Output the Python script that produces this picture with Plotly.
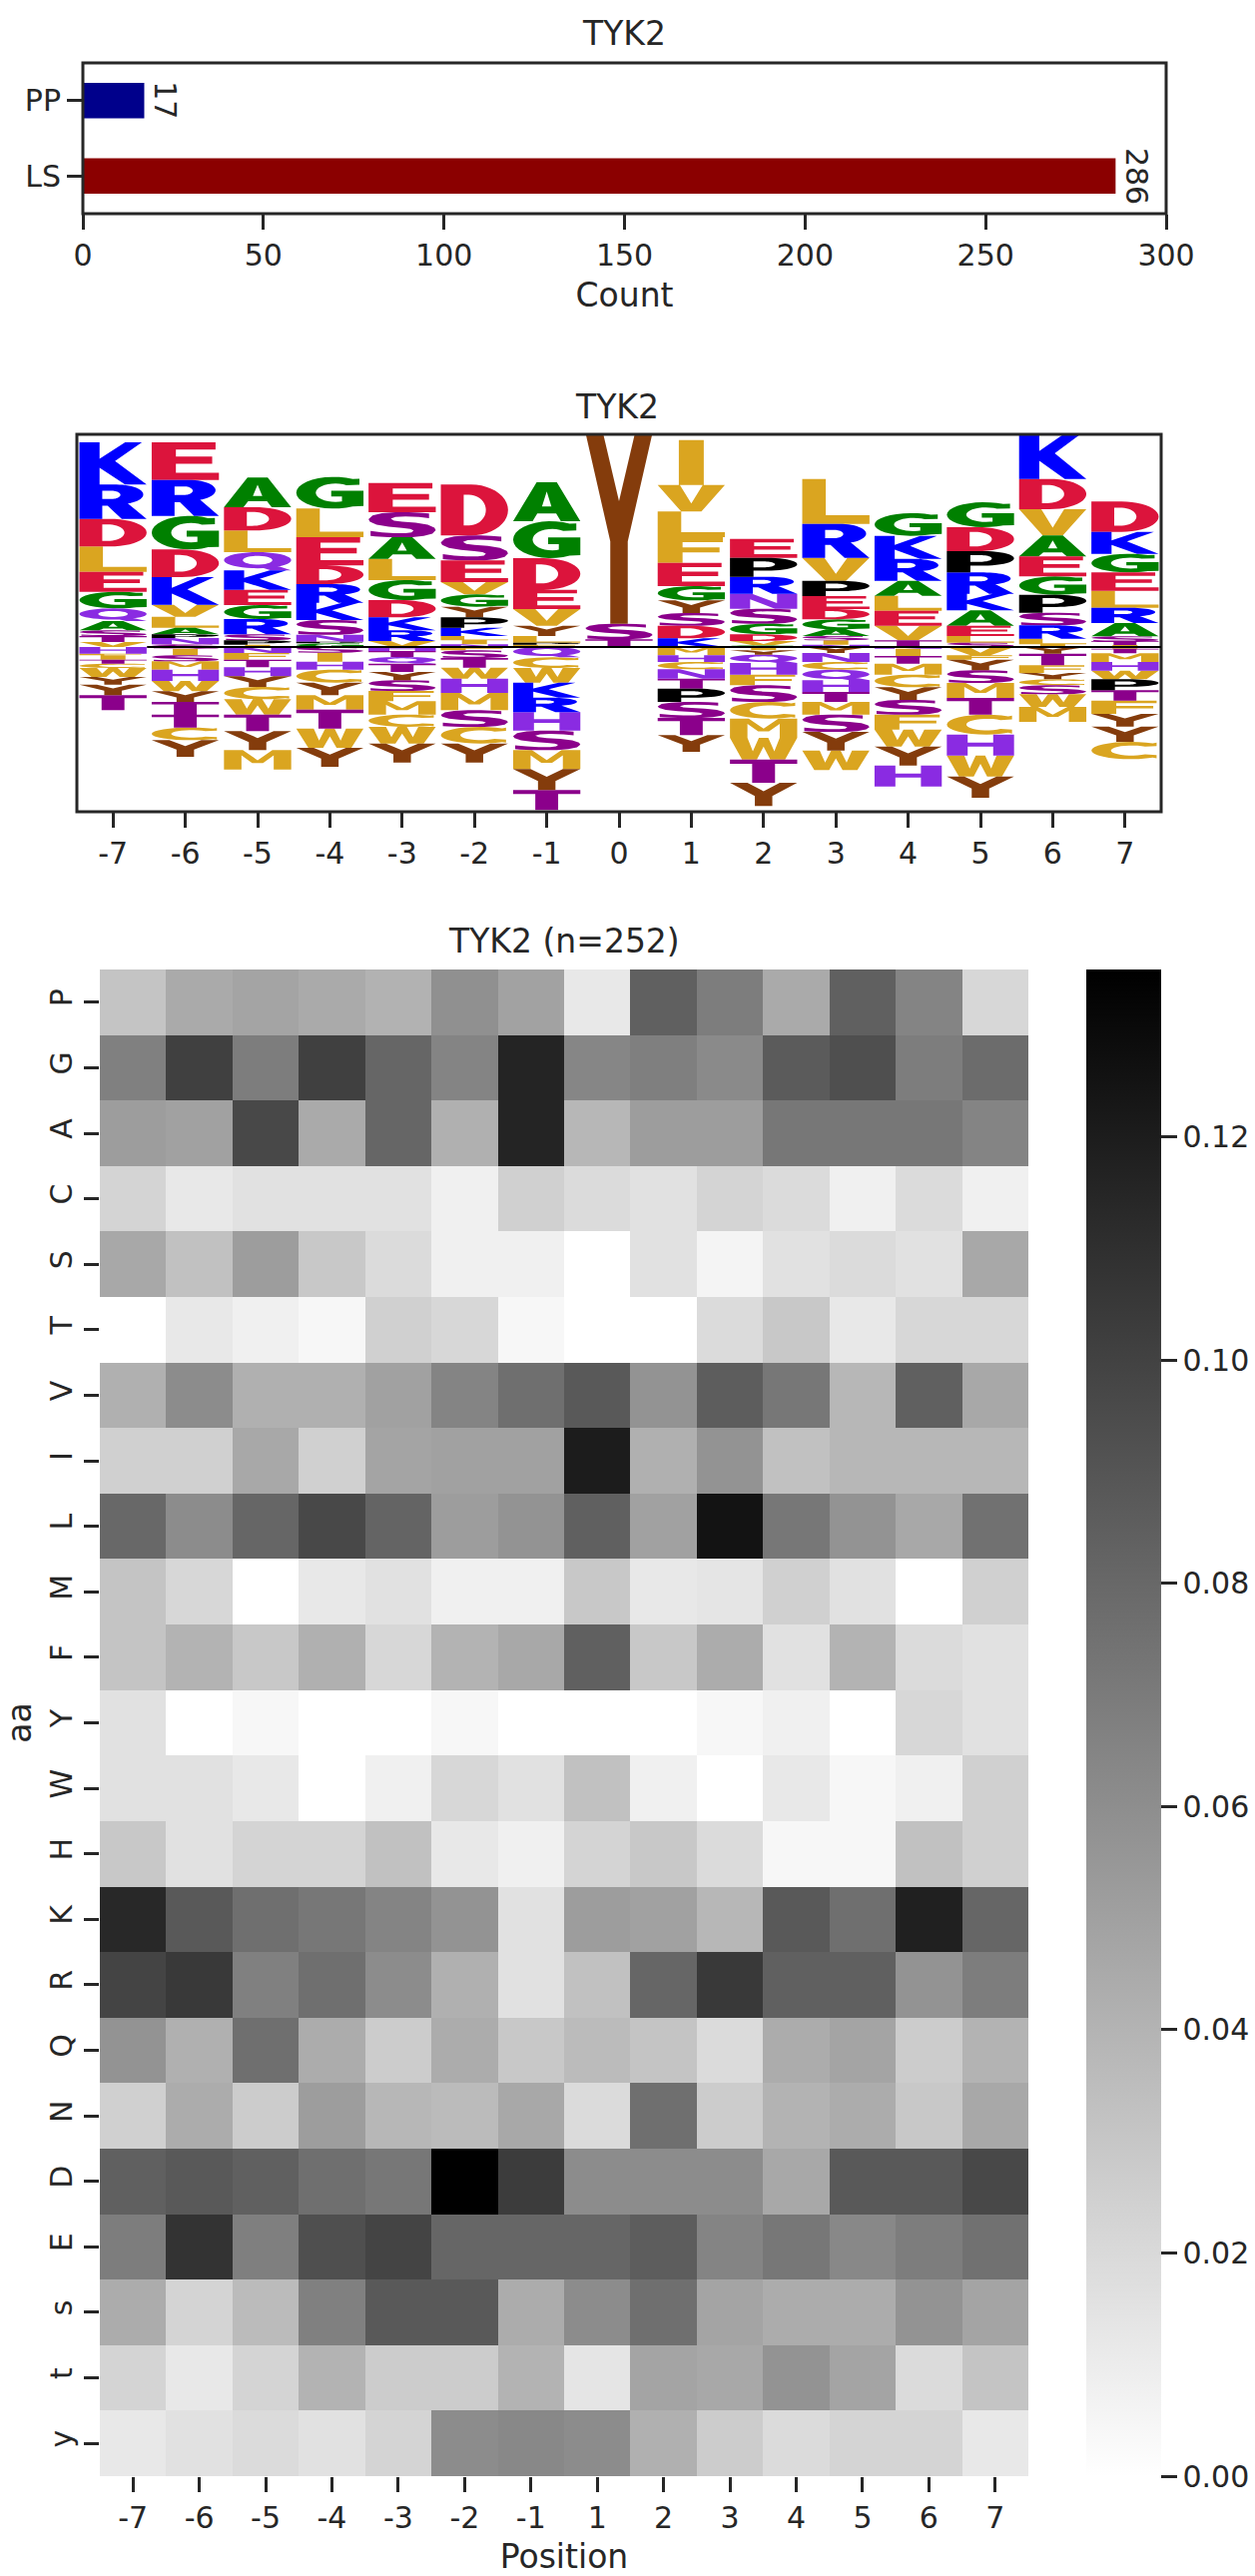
import math
import plotly.graph_objects as go

# ---------- data ----------
BAR_CATEGORIES = ["PP", "LS"]
BAR_COUNTS = [17, 286]
BAR_COLORS = ["#00008B", "#8B0000"]

LOGO_POSITIONS = list(range(-7, 8))
# letters listed from the top of the picture down; heights in logo units
UP_LETTERS = ["KRDLEGQASTV", "ERGDKVLAPNS", "ADLQKEGRSPI", "GLEDRKSNPG", "ESALGDKRV", "DSEVGYPKLIN",
              "AGDEVYLPF", "YST", "IVLFEGYSDK", "EPRNSGDVG", "LRVPEDGASIN", "GKRALEVT", "GDPRKAELS",
              "KDVAEGPSRLI", "DKGELRASTI"]
UP_HEIGHTS = [
    [127, 103, 83, 76, 60, 50, 38, 28, 17, 18, 15],
    [113, 108, 101, 83, 83, 36, 33, 20, 11, 19, 8],
    [89, 70, 65, 55, 58, 46, 42, 46, 18, 13, 7],
    [95, 86, 85, 56, 56, 52, 44, 21, 5, 11],
    [88, 75, 65, 64, 60, 52, 39, 32, 18],
    [153, 75, 65, 37, 37, 32, 31, 25, 13, 12, 8],
    [117, 111, 95, 58, 50, 31, 20, 6, 7],
    [575, 47, 23],
    [135, 80, 77, 77, 70, 43, 38, 38, 38, 26],
    [57, 57, 51, 45, 45, 32, 20, 13, 5],
    [135, 102, 69, 46, 39, 31, 30, 20, 13, 13, 7],
    [68, 69, 66, 45, 45, 45, 44, 20],
    [75, 72, 64, 64, 50, 46, 31, 20, 13],
    [137, 91, 79, 63, 60, 55, 54, 38, 40, 17, 8],
    [91, 66, 56, 55, 51, 46, 40, 15, 11, 6],
]
# letters listed from the baseline downward
DOWN_LETTERS = ["HFITCWYYT", "SISMHWYTTCY", "NFTHYCWTYM", "SIHCYMTWY", "HTQTYSFMCWY", "FSTWHMSCY",
                "QCWKRHSMYT", "", "MHCNTPSTY", "IYQHFSCMWTY", "YNCQHTMSYW", "NITMCYSFWYH", "VFYSMTCHWY",
                "YTFYCSWM", "ITMHWPTFYYC"]
DOWN_HEIGHTS = [
    [20, 5, 13, 12, 13, 27, 23, 32, 45],
    [5, 20, 18, 25, 34, 31, 32, 38, 39, 38, 50],
    [18, 20, 23, 27, 32, 37, 46, 50, 57, 58],
    [17, 27, 24, 39, 38, 43, 57, 58, 57],
    [12, 18, 20, 25, 25, 32, 31, 40, 37, 50, 57],
    [10, 23, 29, 33, 43, 52, 50, 50, 57],
    [31, 32, 44, 45, 44, 55, 59, 57, 63, 60],
    [],
    [25, 20, 22, 28, 30, 40, 48, 52, 50],
    [10, 13, 25, 35, 32, 50, 50, 58, 65, 70, 70],
    [18, 27, 23, 32, 35, 30, 38, 52, 56, 59],
    [5, 22, 23, 33, 38, 38, 44, 45, 51, 57, 63],
    [25, 13, 32, 38, 45, 50, 60, 63, 63, 64],
    [20, 35, 23, 19, 18, 27, 38, 45],
    [5, 14, 26, 26, 26, 33, 31, 40, 38, 46, 52],
]

HEAT_COLUMNS = ["-7", "-6", "-5", "-4", "-3", "-2", "-1", "1", "2", "3", "4", "5", "6", "7"]
HEAT_ROWS = ["P", "G", "A", "C", "S", "T", "V", "I", "L", "M", "F", "Y", "W", "H", "K", "R", "Q", "N", "D", "E", "s", "t", "y"]
HEAT_MILLI = [
    [31, 45, 48, 45, 41, 59, 49, 12, 84, 69, 45, 84, 65, 21],
    [67, 101, 69, 101, 81, 65, 116, 64, 68, 62, 87, 93, 69, 78],
    [52, 50, 97, 45, 81, 42, 116, 38, 52, 52, 72, 72, 72, 65],
    [23, 12, 16, 16, 16, 8, 25, 19, 16, 23, 19, 8, 19, 8],
    [46, 33, 52, 29, 19, 8, 8, 0, 16, 6, 16, 19, 16, 46],
    [0, 12, 8, 4, 25, 21, 4, 0, 0, 19, 29, 12, 21, 21],
    [42, 61, 42, 42, 50, 65, 76, 88, 57, 86, 72, 38, 84, 46],
    [25, 25, 46, 25, 48, 50, 50, 120, 42, 57, 33, 38, 38, 38],
    [80, 61, 81, 97, 82, 52, 57, 84, 50, 125, 72, 57, 46, 75],
    [31, 21, 0, 12, 16, 8, 8, 29, 12, 14, 25, 16, 0, 25],
    [31, 40, 29, 42, 21, 40, 46, 84, 29, 44, 16, 40, 19, 16],
    [16, 0, 4, 0, 0, 4, 0, 0, 0, 4, 8, 0, 21, 16],
    [16, 16, 12, 0, 8, 21, 16, 33, 8, 0, 12, 4, 8, 25],
    [29, 16, 23, 23, 33, 12, 8, 23, 29, 19, 4, 4, 33, 25],
    [114, 88, 76, 72, 65, 57, 16, 52, 50, 38, 88, 76, 118, 81],
    [99, 105, 67, 76, 61, 42, 16, 33, 81, 105, 84, 84, 57, 69],
    [57, 42, 76, 44, 27, 44, 29, 36, 31, 19, 44, 48, 27, 40],
    [25, 44, 27, 52, 38, 36, 46, 19, 76, 27, 40, 44, 29, 46],
    [84, 88, 84, 76, 72, 135, 103, 61, 61, 61, 46, 88, 88, 97],
    [69, 108, 68, 93, 99, 81, 81, 81, 86, 65, 72, 63, 69, 75],
    [44, 23, 36, 67, 88, 88, 44, 61, 76, 48, 44, 44, 57, 48],
    [23, 12, 23, 40, 27, 27, 40, 14, 48, 46, 57, 48, 19, 31],
    [12, 16, 19, 16, 23, 61, 63, 61, 42, 27, 19, 23, 23, 12],
]

# ---------- styles ----------
FONT = "DejaVu Sans"
INK = "#262626"
FS_TICK = 30
FS_TITLE = 33
W, H = 1257, 2580
LETTER_COLORS = {
    "K": "#0000FF", "R": "#0000FF",
    "D": "#DC143C", "E": "#DC143C",
    "G": "#008000", "A": "#008000",
    "L": "#DAA520", "V": "#DAA520", "I": "#DAA520", "F": "#DAA520", "W": "#DAA520", "M": "#DAA520", "C": "#DAA520",
    "P": "#000000",
    "S": "#8B008B", "T": "#8B008B",
    "H": "#8A2BE2", "N": "#8A2BE2", "Q": "#8A2BE2",
    "Y": "#843C0C",
}


# ---------- glyph outlines in a unit box (style, not data) ----------
def arc(cx, cy, rx, ry, a0, a1, n=22):
    return [(cx + rx * math.cos(math.radians(a0 + (a1 - a0) * i / n)),
             cy + ry * math.sin(math.radians(a0 + (a1 - a0) * i / n))) for i in range(n + 1)]


GLYPHS = {
    "A": ([[(0, 0), (.29, 0), (.36, .2), (.64, .2), (.71, 0), (1, 0), (.65, 1), (.35, 1)]],
          [[(.43, .38), (.57, .38), (.5, .76)]]),
    "C": ([[(.97, .95), (.97, .76)] + arc(.6, .5, .31, .29, 50, 310) + [(.97, .24), (.97, .05)] + arc(.58, .5, .58, .5, 305, 55)], []),
    "D": ([[(0, 0), (0, 1), (.45, 1)] + arc(.45, .5, .55, .5, 90, -90) + [(.45, 0)]],
          [[(.34, .2), (.34, .8), (.42, .8)] + arc(.42, .5, .25, .3, 90, -90)]),
    "E": ([[(0, 0), (0, 1), (.95, 1), (.95, .81), (.36, .81), (.36, .62), (.9, .62), (.9, .43), (.36, .43), (.36, .19), (1, .19), (1, 0)]], []),
    "F": ([[(0, 0), (0, 1), (.97, 1), (.97, .81), (.37, .81), (.37, .6), (.92, .6), (.92, .41), (.37, .41), (.37, 0)]], []),
    "G": ([[(.94, .94), (.94, .75)] + arc(.58, .5, .29, .29, 55, 305) + [(.68, .2), (.68, .38), (.52, .38), (.52, .56), (1, .56), (1, .08)] + arc(.56, .5, .56, .5, 300, 60)], []),
    "H": ([[(0, 0), (0, 1), (.31, 1), (.31, .62), (.69, .62), (.69, 1), (1, 1), (1, 0), (.69, 0), (.69, .42), (.31, .42), (.31, 0)]], []),
    "I": ([[(0, 0), (0, 1), (1, 1), (1, 0)]], []),
    "K": ([[(0, 0), (0, 1), (.3, 1), (.3, .61), (.68, 1), (.93, 1), (.53, .56), (1, 0), (.68, 0), (.3, .4), (.3, 0)]], []),
    "L": ([[(0, 0), (0, 1), (.35, 1), (.35, .19), (1, .19), (1, 0)]], []),
    "M": ([[(0, 0), (0, 1), (.28, 1), (.5, .48), (.72, 1), (1, 1), (1, 0), (.74, 0), (.74, .73), (.58, .33), (.42, .33), (.26, .73), (.26, 0)]], []),
    "N": ([[(0, 0), (0, 1), (.33, 1), (.7, .37), (.7, 1), (1, 1), (1, 0), (.67, 0), (.3, .63), (.3, 0)]], []),
    "P": ([[(0, 0), (0, 1), (.55, 1)] + arc(.55, .66, .45, .34, 90, -90) + [(.35, .32), (.35, 0)]],
          [[(.35, .5), (.35, .81), (.5, .81)] + arc(.5, .655, .17, .155, 90, -90)]),
    "Q": ([arc(.5, .56, .5, .44, 0, 360, 40), [(.48, .25), (.75, .3), (1, 0), (.7, 0)]],
          [arc(.5, .56, .22, .24, 0, 360, 30)]),
    "R": ([[(0, 0), (0, 1), (.55, 1)] + arc(.55, .71, .4, .29, 90, -60) + [(.72, .45), (1, 0), (.63, 0), (.42, .38), (.34, .38), (.34, 0)]],
          [[(.34, .58), (.34, .82), (.48, .82)] + arc(.48, .7, .13, .12, 90, -90)]),
    "S": ([[(.9, .95), (.9, .76), (.75, .81), (.55, .83), (.4, .81), (.33, .74), (.38, .66), (.5, .62), (.7, .58), (.88, .5),
            (.98, .38), (1, .28), (.95, .14), (.82, .05), (.65, 0), (.48, 0), (.3, 0), (.1, .03), (.03, .05), (.03, .25), (.2, .19),
            (.38, .16), (.55, .16), (.64, .19), (.67, .27), (.62, .33), (.5, .37), (.3, .42), (.12, .5), (.02, .62), (0, .72),
            (.06, .87), (.2, .96), (.4, 1), (.6, 1), (.75, .98)]], []),
    "T": ([[(0, 1), (1, 1), (1, .81), (.67, .81), (.67, 0), (.33, 0), (.33, .81), (0, .81)]], []),
    "V": ([[(0, 1), (.33, 1), (.5, .3), (.67, 1), (1, 1), (.65, 0), (.35, 0)]], []),
    "W": ([[(0, 1), (.26, 1), (.34, .38), (.43, 1), (.57, 1), (.66, .38), (.74, 1), (1, 1), (.82, 0), (.6, 0), (.5, .6), (.4, 0), (.18, 0)]], []),
    "Y": ([[(0, 1), (.26, 1), (.5, .64), (.74, 1), (1, 1), (.63, .43), (.63, 0), (.37, 0), (.37, .43)]], []),
}
GLYPH_WIDTH = 0.93
NARROW_WIDTH = {"I": 0.345}


def signed_area(poly):
    return sum(poly[i][0] * poly[(i + 1) % len(poly)][1] - poly[(i + 1) % len(poly)][0] * poly[i][1]
               for i in range(len(poly))) / 2


def oriented(poly, ccw):
    return poly if (signed_area(poly) > 0) == ccw else poly[::-1]


def add_glyph(store, letter, pos, base, top):
    solids, holes = GLYPHS[letter]
    w = NARROW_WIDTH.get(letter, GLYPH_WIDTH)
    xs, ys = store.setdefault(LETTER_COLORS[letter], ([], []))
    for polys, ccw in ((solids, True), (holes, False)):
        for poly in polys:
            p = oriented(poly, ccw)
            for u, v in p + p[:1]:
                xs.append(pos + (u - 0.5) * w)
                ys.append(base + v * (top - base))
            xs.append(None)
            ys.append(None)


logo_paths = {}
for i, pos in enumerate(LOGO_POSITIONS):
    level = 0
    for letter, h in reversed(list(zip(UP_LETTERS[i], UP_HEIGHTS[i]))):
        add_glyph(logo_paths, letter, pos, level, level + h)
        level += h
    level = 0
    for letter, h in zip(DOWN_LETTERS[i], DOWN_HEIGHTS[i]):
        add_glyph(logo_paths, letter, pos, level - h, level)
        level -= h


# ---------- layout helpers ----------
def xdom(a, b):
    return [a / W, b / W]


def ydom(top, bottom):
    return [1 - bottom / H, 1 - top / H]


def frame_rect(xr, yr):
    return dict(type="rect", xref=xr + " domain", yref=yr + " domain", x0=0, x1=1, y0=0, y1=1,
                line=dict(color=INK, width=3), fillcolor="rgba(0,0,0,0)", layer="above")


fig = go.Figure()

# bar panel
fig.add_trace(go.Bar(y=BAR_CATEGORIES, x=BAR_COUNTS, orientation="h", marker=dict(color=BAR_COLORS, line_width=0),
                     width=0.47, xaxis="x", yaxis="y", hoverinfo="skip", showlegend=False))

# logo panel
for color, (xs, ys) in logo_paths.items():
    fig.add_trace(go.Scatter(x=xs, y=ys, mode="lines", fill="toself", fillcolor=color,
                             line=dict(width=0, color=color, simplify=False), xaxis="x2", yaxis="y2",
                             hoverinfo="skip", showlegend=False))

# heatmap panel
fig.add_trace(go.Heatmap(
    x=HEAT_COLUMNS, y=HEAT_ROWS, z=[[v / 1000 for v in row] for row in HEAT_MILLI],
    colorscale=[[0, "#ffffff"], [1, "#000000"]], zmin=0, zmax=0.135, xaxis="x3", yaxis="y3",
    hoverinfo="skip",
    colorbar=dict(x=1088 / W, xanchor="left", xpad=0, y=1 - (971 + 2480) / 2 / H, yanchor="middle", ypad=0,
                  len=1509, lenmode="pixels", thickness=75, thicknessmode="pixels", outlinewidth=0,
                  tick0=0, dtick=0.02, tickformat=".2f", ticks="outside", ticklen=16, tickwidth=3, tickcolor=INK,
                  tickfont=dict(family=FONT, size=FS_TICK, color=INK)),
))

frame = dict(showline=False, showgrid=False, zeroline=False)
ticks = dict(ticks="outside", ticklen=15, tickwidth=3, tickcolor=INK,
             tickfont=dict(family=FONT, size=FS_TICK, color=INK))
title_font = dict(family=FONT, size=FS_TITLE, color=INK)

fig.update_layout(
    width=W, height=H, autosize=False, margin=dict(l=0, r=0, t=0, b=0), template="none",
    paper_bgcolor="white", plot_bgcolor="white", font=dict(family=FONT, size=FS_TICK, color=INK),
    xaxis=dict(domain=xdom(83, 1168), range=[0, 300], anchor="y", tickvals=[0, 50, 100, 150, 200, 250, 300],
               title=dict(text="Count", font=title_font, standoff=11), **frame, **ticks),
    yaxis=dict(domain=ydom(63, 214), type="category", categoryorder="array", categoryarray=["LS", "PP"],
               range=[-0.5, 1.5], anchor="x", **frame, **ticks),
    xaxis2=dict(domain=xdom(77, 1163), range=[-7.5, 7.5], anchor="y2", tickvals=LOGO_POSITIONS,
                ticktext=[str(p) for p in LOGO_POSITIONS], **frame, **ticks),
    yaxis2=dict(domain=ydom(435, 813), range=[-495, 639], anchor="x2", showticklabels=False, ticks="", **frame),
    xaxis3=dict(domain=xdom(100, 1030), type="category", anchor="y3", showgrid=False, zeroline=False, showline=False,
                title=dict(text="Position", font=title_font, standoff=11), **ticks),
    yaxis3=dict(domain=ydom(971, 2480), type="category", anchor="x3", range=[22.5, -0.5], showgrid=False,
                zeroline=False, showline=False, tickangle=-90,
                title=dict(text="aa", font=title_font, standoff=20), **ticks),
    shapes=[
        frame_rect("x", "y"),
        frame_rect("x2", "y2"),
        dict(type="line", xref="x2", yref="y2", x0=-6.53, x1=7.5, y0=0, y1=0,
             line=dict(color="black", width=2), layer="above"),
    ],
    annotations=[
        dict(text="TYK2", xref="paper", yref="paper", x=625 / W, y=1 - 33 / H, xanchor="center", yanchor="middle",
             showarrow=False, font=title_font),
        dict(text="TYK2", xref="paper", yref="paper", x=618 / W, y=1 - 407 / H, xanchor="center", yanchor="middle",
             showarrow=False, font=title_font),
        dict(text="TYK2 (n=252)", xref="paper", yref="paper", x=565 / W, y=1 - 942 / H, xanchor="center", yanchor="middle",
             showarrow=False, font=title_font),
    ] + [
        dict(text=str(v), xref="x", yref="y", x=v, y=c, xanchor="center", showarrow=False, textangle=90,
             xshift=21, font=dict(family=FONT, size=FS_TICK, color=INK))
        for c, v in zip(BAR_CATEGORIES, BAR_COUNTS)
    ],
)

fig.write_html("out.html", post_script="document.body.style.margin='0';", config={"displayModeBar": False})
